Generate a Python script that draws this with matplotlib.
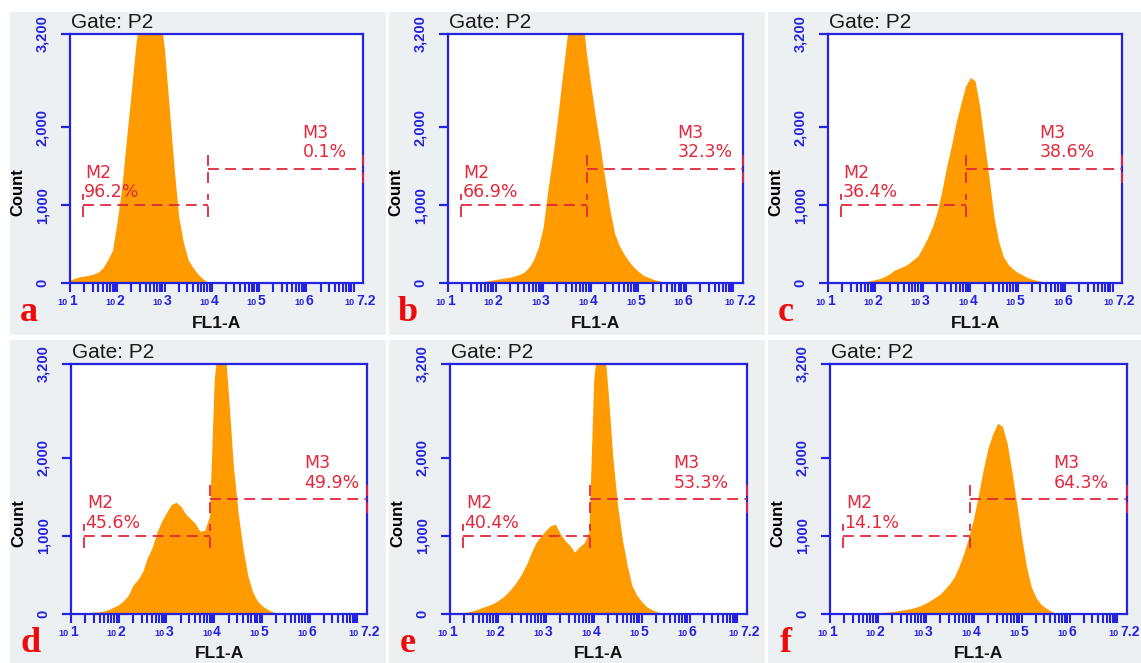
import numpy as np
import matplotlib
matplotlib.use("Agg")
import matplotlib.pyplot as plt
from matplotlib.patches import Rectangle

W, H = 1141, 663

# log10(FL1-A) bin positions shared by all histograms
fl1_log = [1.0, 1.1, 1.2, 1.3, 1.4, 1.5, 1.6, 1.7, 1.8, 1.9,
           2.0, 2.1, 2.2, 2.3, 2.4, 2.5, 2.6, 2.7, 2.8, 2.9,
           3.0, 3.1, 3.2, 3.3, 3.4, 3.5, 3.6, 3.7, 3.8, 3.9,
           4.0, 4.1, 4.2, 4.3, 4.4, 4.5, 4.6, 4.7, 4.8, 4.9,
           5.0, 5.1, 5.2, 5.3, 5.4, 5.5, 5.6, 5.7, 5.8, 5.9,
           6.0]

# event counts (values above 3,200 are clipped by the axes)
counts_a = [40, 60, 80, 90, 100, 115, 140, 200, 300, 420,
            800, 1250, 1880, 2480, 3100, 3500, 3700, 3700, 3650, 3500,
            3000, 2250, 1500, 850, 520, 300, 200, 120, 60, 20,
            5, 0, 0, 0, 0, 0, 0, 0, 0, 0,
            0, 0, 0, 0, 0, 0, 0, 0, 0, 0,
            0]
counts_b = [0, 0, 0, 0, 0, 0, 5, 15, 25, 35,
            45, 55, 65, 75, 90, 110, 140, 200, 300, 460,
            720, 1200, 1620, 2100, 2640, 3150, 3600, 3700, 3600, 3000,
            2550, 2130, 1750, 1330, 950, 640, 480, 370, 280, 205,
            150, 100, 75, 50, 33, 20, 8, 0, 0, 0,
            0]
counts_c = [0, 0, 0, 0, 0, 0, 5, 10, 20, 30,
            45, 60, 85, 120, 165, 190, 215, 250, 300, 350,
            460, 580, 720, 910, 1180, 1490, 1760, 2060, 2300, 2530,
            2640, 2600, 2270, 1800, 1330, 850, 530, 335, 240, 180,
            135, 105, 70, 50, 35, 22, 8, 0, 0, 0,
            0]
counts_d = [5, 8, 10, 15, 20, 25, 30, 40, 60, 90,
            120, 170, 240, 370, 440, 540, 720, 850, 1050, 1190,
            1300, 1400, 1430, 1380, 1280, 1220, 1160, 1060, 1070, 1250,
            3000, 3600, 3600, 2800, 1900, 1300, 850, 500, 290, 170,
            105, 66, 35, 12, 0, 0, 0, 0, 0, 0,
            0]
counts_e = [5, 10, 15, 20, 30, 45, 65, 90, 110, 135,
            170, 215, 270, 340, 420, 520, 640, 790, 920, 1000,
            1070, 1130, 1150, 1030, 940, 880, 790, 860, 910, 1050,
            3000, 3600, 3600, 2850, 2000, 1380, 950, 620, 360, 240,
            160, 95, 60, 33, 15, 0, 0, 0, 0, 0,
            0]
counts_f = [0, 0, 0, 0, 0, 0, 0, 0, 5, 10,
            15, 20, 25, 30, 40, 50, 60, 70, 90, 110,
            140, 175, 215, 255, 320, 390, 480, 620, 790, 990,
            1230, 1530, 1850, 2130, 2310, 2440, 2400, 2180, 1810, 1400,
            980, 610, 350, 210, 127, 80, 42, 15, 0, 0,
            0]

panel_letters = ["a", "b", "c", "d", "e", "f"]
m2_percent = ["96.2%", "66.9%", "36.4%", "45.6%", "40.4%", "14.1%"]
m3_percent = ["0.1%", "32.3%", "38.6%", "49.9%", "53.3%", "64.3%"]

# marker gates in log10(FL1-A), and the count level they are drawn at
m2_gate = [1.27, 3.92]
m3_gate = [3.92, 7.2]
m2_level = 1000
m3_level = 1470

y_ticks = [0, 1000, 2000, 3200]
y_tick_labels = ["0", "1,000", "2,000", "3,200"]
x_decades = [1, 2, 3, 4, 5, 6, 7.2]
x_exp_labels = ["1", "2", "3", "4", "5", "6", "7.2"]

# layout (figure pixels): plot frames and grey panel backgrounds
axes_px = [(70, 34, 363, 283), (448, 34, 743, 283), (828, 34, 1122, 283),
           (71, 364, 367, 614), (450, 364, 747, 614), (830, 364, 1127, 614)]
bg_px = [(10, 12, 385.5, 335), (388.5, 12, 764.5, 335), (767.5, 12, 1141, 335),
         (10, 340, 385.5, 663), (388.5, 340, 764.5, 663), (767.5, 340, 1141, 663)]
m3_text_x = [5.92, 5.82, 5.46, 5.89, 5.67, 5.67]

ORANGE = "#FF9A00"
BLUE = "#2424E0"
RED = "#E2283C"
LETTER_RED = "#EE0A0A"
PANEL_BG = "#EDF0F2"
TICK_PX = 9

plt.rcParams["font.family"] = ["Liberation Sans", "DejaVu Sans"]

fig = plt.figure(figsize=(W / 100, H / 100), dpi=100)
fig.patch.set_facecolor("white")

all_counts = [counts_a, counts_b, counts_c, counts_d, counts_e, counts_f]
x_vals = np.power(10.0, fl1_log)

# log-axis tick positions (1..9 x 10^k) inside the visible range
log_ticks = [m * 10.0 ** k for k in range(1, 8) for m in range(1, 10) if m * 10.0 ** k <= 10 ** 7.2]

for i, counts in enumerate(all_counts):
    x0, y0, x1, y1 = bg_px[i]
    fig.add_artist(Rectangle((x0 / W, 1 - y1 / H), (x1 - x0) / W, (y1 - y0) / H,
                             transform=fig.transFigure, facecolor=PANEL_BG,
                             edgecolor="none", zorder=-5))

    l, t, r, b = axes_px[i]
    ax_h = b - t
    ax_w = r - l
    ax = fig.add_axes([l / W, 1 - b / H, ax_w / W, ax_h / H])
    ax.set_facecolor("white")
    ax.fill_between(x_vals, counts, color=ORANGE, lw=0, zorder=2)

    ax.set_xscale("log")
    ax.set_xlim(10 ** 1, 10 ** 7.2)
    ax.set_ylim(0, 3200)
    for sp in ax.spines.values():
        sp.set_color(BLUE)
        sp.set_linewidth(1.6)

    ax.set_xticks([])
    ax.set_xticks([], minor=True)
    ax.set_yticks(y_ticks)
    ax.set_yticklabels(y_tick_labels, rotation=90, va="center",
                       family=["Liberation Sans Narrow", "Liberation Sans"], fontweight="bold")
    ax.tick_params(axis="y", length=0, labelcolor=BLUE, labelsize=10.5, pad=15)

    # tick marks drawn outside the frame
    ax.vlines(log_ticks, -TICK_PX / ax_h, 0, transform=ax.get_xaxis_transform(),
              colors=BLUE, lw=1.5, clip_on=False, zorder=5)
    ax.hlines(y_ticks, -TICK_PX / ax_w, 0, transform=ax.get_yaxis_transform(),
              colors=BLUE, lw=1.6, clip_on=False, zorder=5)

    # decade labels drawn as a tiny "10" plus a larger exponent
    for pos, exp in zip(x_decades, x_exp_labels):
        dx = -8 if pos > 7 else -2
        ax.annotate("10", xy=(10 ** pos, 0), xycoords=("data", "axes fraction"),
                    xytext=(dx, -22), textcoords="offset pixels", ha="right", va="baseline",
                    fontsize=6.5, fontweight="bold", color=BLUE, annotation_clip=False)
        ax.annotate(exp, xy=(10 ** pos, 0), xycoords=("data", "axes fraction"),
                    xytext=(dx + 1, -22), textcoords="offset pixels", ha="left", va="baseline",
                    fontsize=10, fontweight="bold", color=BLUE, annotation_clip=False)

    # M2 / M3 markers
    dash = dict(color=RED, lw=1.3, dashes=(6, 3.5), zorder=3, clip_on=False)
    lo, hi = 10 ** m2_gate[0], 10 ** m2_gate[1]
    ax.plot([lo, hi], [m2_level, m2_level], **dash)
    ax.plot([lo, lo], [m2_level - 150, m2_level + 150], **dash)
    ax.plot([hi, hi], [m2_level - 150, m2_level + 150], **dash)
    lo, hi = 10 ** m3_gate[0], 10 ** m3_gate[1]
    ax.plot([lo, hi], [m3_level, m3_level], **dash)
    ax.plot([lo, lo], [m3_level - 180, m3_level + 180], **dash)
    ax.plot([hi, hi], [m3_level - 180, m3_level + 180], **dash)

    mk_font = dict(color=RED, fontsize=12.5, family="DejaVu Sans", va="center", ha="left", zorder=4)
    ax.text(10 ** 1.33, 1420, "M2", **mk_font)
    ax.text(10 ** 1.30, 1165, m2_percent[i], **mk_font)
    ax.text(10 ** m3_text_x[i], 1930, "M3", **mk_font)
    ax.text(10 ** m3_text_x[i], 1680, m3_percent[i], **mk_font)

    # axis titles, gate name and panel letter
    ax.annotate("Count", xy=(0, 0.365), xycoords="axes fraction", xytext=(-52, 0),
                textcoords="offset pixels", rotation=90, ha="center", va="center",
                fontsize=12, fontweight="bold", color="black")
    ax.annotate("FL1-A", xy=(0.5, 0), xycoords="axes fraction", xytext=(0, -40),
                textcoords="offset pixels", ha="center", va="center",
                fontsize=12.5, fontweight="bold", color="#111111", annotation_clip=False)
    ax.annotate("Gate: P2", xy=(0, 1), xycoords="axes fraction", xytext=(1, 12),
                textcoords="offset pixels", ha="left", va="center",
                fontsize=15, color="#1A1A1A")
    fig.text((l - 50) / W, 1 - (b + 38) / H, panel_letters[i], ha="left", va="baseline",
             fontsize=26, fontweight="bold", family="Liberation Serif", color=LETTER_RED)

fig.savefig("out.png", dpi=100, facecolor=fig.get_facecolor())
